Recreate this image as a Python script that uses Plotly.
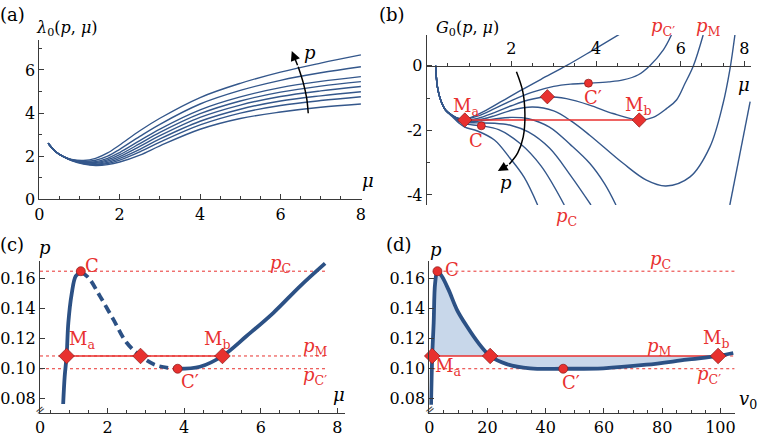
import plotly.graph_objects as go

W, H = 772, 444
BLUE = "#34578b"
BLUE_THICK = "#2c5185"
RED = "#e8312f"
RED_EDGE = "#8a1a18"
FILL = "#c8d7ea"
AXIS = "#3a3a3a"
FONT = "DejaVu Serif"

# ---------------- panel (a): lambda_0(p, mu) ----------------
a_mu = [0.22, 0.4, 0.6, 0.8, 1.1, 1.4, 1.7, 2.0, 2.5, 3.0, 4.0, 5.0, 6.0, 7.0, 8.0]
a_lam_1 = [2.60, 2.22, 1.98, 1.80, 1.64, 1.57, 1.61, 1.73, 2.05, 2.48, 3.25, 3.75, 4.05, 4.27, 4.42]
a_lam_2 = [2.60, 2.22, 1.98, 1.81, 1.66, 1.60, 1.66, 1.82, 2.20, 2.65, 3.45, 4.00, 4.35, 4.58, 4.76]
a_lam_3 = [2.60, 2.22, 1.98, 1.82, 1.68, 1.63, 1.71, 1.90, 2.32, 2.80, 3.62, 4.18, 4.56, 4.80, 4.99]
a_lam_4 = [2.60, 2.22, 1.98, 1.82, 1.70, 1.67, 1.77, 1.98, 2.45, 2.95, 3.80, 4.37, 4.77, 5.03, 5.23]
a_lam_5 = [2.60, 2.22, 1.98, 1.83, 1.72, 1.71, 1.83, 2.07, 2.58, 3.10, 3.97, 4.56, 4.97, 5.25, 5.46]
a_lam_6 = [2.60, 2.22, 1.98, 1.83, 1.74, 1.75, 1.90, 2.17, 2.72, 3.26, 4.15, 4.75, 5.18, 5.47, 5.69]
a_lam_7 = [2.60, 2.22, 1.98, 1.84, 1.77, 1.81, 2.00, 2.32, 2.92, 3.48, 4.42, 5.05, 5.52, 5.87, 6.15]
a_lam_8 = [2.60, 2.22, 1.98, 1.85, 1.80, 1.90, 2.15, 2.52, 3.18, 3.76, 4.72, 5.38, 5.90, 6.32, 6.70]
a_curves = [a_lam_1, a_lam_2, a_lam_3, a_lam_4, a_lam_5, a_lam_6, a_lam_7, a_lam_8]
a_arrow_mu = [6.69, 6.65, 6.57, 6.44]
a_arrow_lam = [3.99, 4.70, 5.38, 6.15]
a_arrow_head = (6.28, 6.88)
a_xticks = [0, 2, 4, 6, 8]
a_yticks = [0, 2, 4, 6]

# ---------------- panel (b): G_0(p, mu) ----------------
b_start_mu = [0.213, 0.252, 0.331, 0.449]
b_start_G = [0.0, -0.65, -1.07, -1.38]
b_mu_1 = b_start_mu + [0.607, 0.764, 0.9, 1.0, 1.4, 1.8, 2.2, 2.7, 3.3, 3.9, 4.55]
b_G_1 = b_start_G + [-1.54, -1.63, -1.64, -1.62, -1.38, -1.08, -0.78, -0.42, 0.0, 0.46, 0.97]
b_mu_2 = b_start_mu + [0.607, 0.764, 0.9, 1.2, 1.6, 2.0, 2.5, 3.0, 3.4, 3.82, 4.3, 4.64, 5.0, 5.27, 5.59, 5.78]
b_G_2 = b_start_G + [-1.54, -1.64, -1.66, -1.56, -1.33, -1.08, -0.82, -0.64, -0.57, -0.54, -0.50, -0.44, -0.28, 0.0, 0.49, 0.95]
b_mu_3 = b_start_mu + [0.607, 0.764, 0.9, 1.2, 1.6, 2.0, 2.4, 2.85, 3.3, 3.85, 4.4, 5.02, 5.35, 5.67, 5.9, 6.1, 6.3, 6.53]
b_G_3 = b_start_G + [-1.54, -1.65, -1.68, -1.63, -1.45, -1.24, -1.06, -0.96, -1.02, -1.22, -1.48, -1.68, -1.60, -1.32, -1.06, -0.55, 0.0, 0.95]
b_mu_4 = b_start_mu + [0.607, 0.764, 0.9, 1.2, 1.6, 2.0, 2.5, 3.0, 3.4, 3.85, 4.64, 5.19, 5.65, 6.22, 6.69, 7.0, 7.16, 7.28]
b_G_4 = b_start_G + [-1.54, -1.66, -1.70, -1.68, -1.55, -1.38, -1.28, -1.40, -1.70, -2.15, -3.02, -3.54, -3.72, -3.44, -2.51, -1.17, -0.13, 0.95]
b_mu_5 = b_start_mu + [0.607, 0.764, 0.9, 1.2, 1.6, 2.0, 2.4, 2.9, 3.4, 3.85, 4.2, 4.47, None, 7.16, 7.4, 7.64]
b_G_5 = b_start_G + [-1.54, -1.67, -1.72, -1.72, -1.65, -1.60, -1.64, -1.90, -2.45, -3.02, -3.65, -4.31, None, -4.31, -2.71, -1.11]
b_mu_6 = b_start_mu + [0.607, 0.764, 0.9, 1.2, 1.6, 2.0, 2.4, 2.9, 3.4, 3.88]
b_G_6 = b_start_G + [-1.55, -1.69, -1.75, -1.77, -1.78, -1.85, -2.05, -2.55, -3.40, -4.31]
b_mu_7 = b_start_mu + [0.607, 0.764, 0.9, 1.29, 1.7, 2.2, 2.7, 3.25]
b_G_7 = b_start_G + [-1.56, -1.73, -1.80, -1.86, -1.98, -2.40, -3.10, -4.31]
b_mu_8 = b_start_mu + [0.607, 0.764, 0.9, 1.2, 1.6, 1.96, 2.3, 2.62]
b_G_8 = b_start_G + [-1.58, -1.78, -1.90, -2.02, -2.30, -2.85, -3.45, -4.31]
b_curves = [(b_mu_1, b_G_1), (b_mu_2, b_G_2), (b_mu_3, b_G_3), (b_mu_4, b_G_4),
            (b_mu_5, b_G_5), (b_mu_6, b_G_6), (b_mu_7, b_G_7), (b_mu_8, b_G_8)]
b_G_M = -1.68
b_diamond_mu = [0.9, 2.85, 5.02]
b_diamond_G = [-1.68, -0.96, -1.68]
b_circle_mu = [1.29, 3.82]
b_circle_G = [-1.86, -0.54]
b_arrow_mu = [2.12, 2.27, 2.32, 2.28, 2.15, 1.95]
b_arrow_G = [-0.19, -0.80, -1.50, -2.20, -2.70, -3.05]
b_arrow_head = (1.68, -3.26)
b_xticks = [2, 4, 6, 7.5]
b_xticktext = ["2", "4", "6", "8"]
b_yticks = [-4, -2, 0]
b_yticktext = ["-4", "-2", "0"]

# ---------------- levels ----------------
p_C = 0.165
p_M = 0.1085
p_Cp = 0.100

# ---------------- panel (c): p(mu) ----------------
c_mu_rise = [0.84, 0.88, 0.93, 0.975, 1.06, 1.17, 1.30]
c_p_rise = [0.0765, 0.095, 0.1085, 0.1307, 0.1495, 0.1618, 0.1645]
c_mu_dash = [1.30, 1.50, 1.80, 2.15, 2.50, 2.86, 3.28, 3.83]
c_p_dash = [0.1645, 0.1607, 0.1484, 0.1329, 0.1173, 0.1085, 0.1022, 0.100]
c_mu_right = [3.83, 4.41, 5.00, 5.63, 6.33, 7.03, 7.68]
c_p_right = [0.100, 0.1013, 0.1085, 0.1218, 0.1373, 0.1551, 0.1702]
c_diamond_mu = [0.93, 2.86, 5.00]
c_circle_mu = [1.30, 3.83]
c_circle_p = [p_C, p_Cp]
c_xticks = [0.235, 2, 4, 6, 8]
c_xticktext = ["0", "2", "4", "6", "8"]
p_ticks = [0.08, 0.10, 0.12, 0.14, 0.16]
p_ticktext = ["0.08", "0.10", "0.12", "0.14", "0.16"]

# ---------------- panel (d): p(v0) ----------------
d_v0 = [0.6, 1.0, 1.5, 2.0, 2.8, 4.3, 6.6, 9.5, 12.9, 16.9, 20.9, 26.6, 34.6, 46.0, 59.8, 74.6, 88.4, 99.2, 104.4]
d_p = [0.076, 0.1085, 0.1305, 0.157, 0.165, 0.1616, 0.1527, 0.1393, 0.1283, 0.1171, 0.1085, 0.1031,
       0.1003, 0.100, 0.1003, 0.1027, 0.106, 0.1085, 0.1105]
d_diamond_v0 = [1.0, 20.9, 99.2]
d_circle_v0 = [2.8, 46.0]
d_circle_p = [p_C, p_Cp]
d_xticks = [0, 20, 40, 60, 80, 100]

# ---------------- figure ----------------
fig = go.Figure()


def fx(px):
    return px / W


def fy(py):
    return 1 - py / H


def add_line(x, y, xa, ya, color, width, dash=None, shape="spline"):
    fig.add_trace(go.Scatter(x=x, y=y, xaxis=xa, yaxis=ya, mode="lines",
                             line=dict(color=color, width=width, dash=dash, shape=shape),
                             connectgaps=False, hoverinfo="skip", showlegend=False))


def add_markers(x, y, xa, ya, symbol, size):
    fig.add_trace(go.Scatter(x=x, y=y, xaxis=xa, yaxis=ya, mode="markers",
                             marker=dict(symbol=symbol, size=size, color=RED,
                                         line=dict(color=RED_EDGE, width=0.7)),
                             cliponaxis=False, hoverinfo="skip", showlegend=False))


# panel a
for lam in a_curves:
    add_line(a_mu, lam, "x", "y", BLUE, 1.4)
add_line(a_arrow_mu, a_arrow_lam, "x", "y", "black", 1.5)

# panel b
for mu, G in b_curves:
    add_line(mu, G, "x2", "y2", BLUE, 1.4)
add_line([b_diamond_mu[0], b_diamond_mu[2]], [b_G_M, b_G_M], "x2", "y2", RED, 1.4, shape="linear")
add_line(b_arrow_mu, b_arrow_G, "x2", "y2", "black", 1.5)
add_markers(b_diamond_mu, b_diamond_G, "x2", "y2", "diamond", 11)
add_markers(b_circle_mu, b_circle_G, "x2", "y2", "circle", 8)

# panel c
c_x0, c_x1 = 0.235, 7.75
add_line([c_x0, c_x1], [p_C, p_C], "x3", "y3", RED, 1, dash="dot", shape="linear")
add_line([c_x0, c_x1], [p_M, p_M], "x3", "y3", RED, 1, dash="dot", shape="linear")
add_line([c_x0, c_x1], [p_Cp, p_Cp], "x3", "y3", RED, 1, dash="dot", shape="linear")
add_line([c_diamond_mu[0], c_diamond_mu[2]], [p_M, p_M], "x3", "y3", RED, 1.4, shape="linear")
add_line(c_mu_rise, c_p_rise, "x3", "y3", BLUE_THICK, 3.8)
add_line(c_mu_dash, c_p_dash, "x3", "y3", BLUE_THICK, 3.8, dash="9px,5px")
add_line(c_mu_right, c_p_right, "x3", "y3", BLUE_THICK, 3.8)
add_markers(c_diamond_mu, [p_M] * 3, "x3", "y3", "diamond", 12)
add_markers(c_circle_mu, c_circle_p, "x3", "y3", "circle", 9)

# panel d
fig.add_trace(go.Scatter(x=d_v0[1:18], y=d_p[1:18], xaxis="x4", yaxis="y4", mode="lines",
                         fill="toself", fillcolor=FILL, line=dict(width=0, shape="spline"),
                         hoverinfo="skip", showlegend=False))
add_line([d_circle_v0[0], 104.8], [p_C, p_C], "x4", "y4", RED, 1, dash="dot", shape="linear")
add_line([d_diamond_v0[2], 106], [p_M, p_M], "x4", "y4", RED, 1, dash="dot", shape="linear")
add_line([1.0, 104.8], [p_Cp, p_Cp], "x4", "y4", RED, 1, dash="dot", shape="linear")
add_line([d_diamond_v0[0], d_diamond_v0[2]], [p_M, p_M], "x4", "y4", RED, 1.4, shape="linear")
add_line(d_v0, d_p, "x4", "y4", BLUE_THICK, 3.8)
add_markers(d_diamond_v0, [p_M] * 3, "x4", "y4", "diamond", 12)
add_markers(d_circle_v0, d_circle_p, "x4", "y4", "circle", 9)

# ---------------- axes ----------------
tickfont = dict(family=FONT, size=16, color="black")
base = dict(showgrid=False, zeroline=False, showline=True, linecolor=AXIS, linewidth=1,
            tickcolor=AXIS, tickwidth=1, ticklen=5, ticks="inside", tickfont=tickfont,
            automargin=False, fixedrange=True)


def minor(vals):
    return dict(tickvals=vals, ticks="inside", ticklen=3, tickcolor=AXIS, tickwidth=1)


def minor_out(vals):
    return dict(tickvals=vals, ticks="outside", ticklen=3, tickcolor=AXIS, tickwidth=1)


# domains from pixel positions
a_dx = [fx(39.3), fx(361.7)]
a_dy = [fy(199.3), fy(40)]
b_dx = [fx(426.7), fx(751)]
b_dy = [fy(205), fy(35)]
c_dx = [fx(40), fx(345)]
d_dx = [fx(429.3), fx(735)]
cd_dy = [fy(412.7), fy(261.3)]

b_yr = [-4.31, 0.95]
b_pos = b_dy[0] + (0 - b_yr[0]) / (b_yr[1] - b_yr[0]) * (b_dy[1] - b_dy[0])

fig.update_layout(
    width=W, height=H, margin=dict(l=0, r=0, t=0, b=0),
    paper_bgcolor="white", plot_bgcolor="rgba(0,0,0,0)",
    showlegend=False,
    font=dict(family=FONT, size=16, color="black"),
    xaxis=dict(base, domain=a_dx, range=[0, 8.02], anchor="y", tickvals=a_xticks,
               minor=minor([0.5, 1, 1.5, 2.5, 3, 3.5, 4.5, 5, 5.5, 6.5, 7, 7.5])),
    yaxis=dict(base, domain=a_dy, range=[0, 7.39], anchor="x", tickvals=a_yticks,
               minor=minor([1, 3, 5, 7])),
    xaxis2=dict(base, domain=b_dx, range=[0, 7.66], anchor="free", position=b_pos, side="top",
                ticks="outside", tickvals=b_xticks, ticktext=b_xticktext,
                minor=minor_out([0.5, 1, 1.5, 2.5, 3, 3.5, 4.5, 5, 5.5, 6.5, 7])),
    yaxis2=dict(base, domain=b_dy, range=b_yr, anchor="x2", tickvals=b_yticks,
                ticktext=b_yticktext, minor=minor([-3, -1])),
    xaxis3=dict(base, domain=c_dx, range=[0.235, 8.2], anchor="y3", tickvals=c_xticks,
                ticktext=c_xticktext,
                minor=minor([0.5, 1, 1.5, 2.5, 3, 3.5, 4.5, 5, 5.5, 6.5, 7, 7.5])),
    yaxis3=dict(base, domain=cd_dy, range=[0.0707, 0.1716], anchor="x3", tickvals=p_ticks,
                ticktext=p_ticktext),
    xaxis4=dict(base, domain=d_dx, range=[0, 105], anchor="y4", tickvals=d_xticks,
                minor=minor([5, 10, 15, 25, 30, 35, 45, 50, 55, 65, 70, 75, 85, 90, 95])),
    yaxis4=dict(base, domain=cd_dy, range=[0.0707, 0.1716], anchor="x4", tickvals=p_ticks,
                ticktext=p_ticktext),
)

# ---------------- annotations ----------------
ann = []


def label(px, py, text, color="black", size=18):
    ann.append(dict(x=fx(px), y=fy(py), xref="paper", yref="paper", text=text, showarrow=False,
                    font=dict(family=FONT, size=size, color=color),
                    xanchor="center", yanchor="middle"))


PC = "<i>p</i><sub>C</sub>"
PM = "<i>p</i><sub>M</sub>"
PCP = "<i>p</i><sub>C′</sub>"
MA = "M<sub>a</sub>"
MB = "M<sub>b</sub>"

# a
label(12, 15, "(a)")
label(67, 28, "<i>λ</i><sub>0</sub>(<i>p</i>, <i>μ</i>)", size=16)
label(368, 180, "<i>μ</i>")
label(310, 52, "<i>p</i>")
# b
label(392, 15, "(b)")
label(467, 28, "<i>G</i><sub>0</sub>(<i>p</i>, <i>μ</i>)", size=16)
label(744, 85, "<i>μ</i>")
label(663, 27, PCP, RED)
label(708, 27, PM, RED)
label(566, 217, PC, RED)
label(466, 107, MA, RED)
label(476, 140, "C", RED)
label(593, 97, "C′", RED)
label(638, 106, MB, RED)
label(506, 182, "<i>p</i>")
# c
label(12, 244, "(c)")
label(45, 247, "<i>p</i>")
label(339, 394, "<i>μ</i>")
label(92, 265, "C", RED)
label(280, 264, PC, RED)
label(82, 340, MA, RED)
label(217, 340, MB, RED)
label(315, 347, PM, RED)
label(190, 381, "C′", RED)
label(315, 376, PCP, RED)
# d
label(399, 244, "(d)")
label(436, 249, "<i>p</i>")
label(748, 400, "<i>v</i><sub>0</sub>")
label(452, 269, "C", RED)
label(660, 260, PC, RED)
label(716, 339, MB, RED)
label(659, 347, PM, RED)
label(448, 367, MA, RED)
label(571, 382, "C′", RED)
label(709, 375, PCP, RED)

# axis break marks
for bx in (40, 429.5):
    ann.append(dict(x=fx(bx), y=fy(410), xref="paper", yref="paper", text="=", showarrow=False,
                    textangle=-40, font=dict(family=FONT, size=12, color=AXIS),
                    xanchor="center", yanchor="middle"))

# arrow heads
ann.append(dict(x=a_arrow_head[0], y=a_arrow_head[1], xref="x", yref="y",
                ax=a_arrow_mu[-1], ay=a_arrow_lam[-1], axref="x", ayref="y", text="",
                showarrow=True, arrowhead=2, arrowsize=1.3, arrowwidth=1.5, arrowcolor="black"))
ann.append(dict(x=b_arrow_head[0], y=b_arrow_head[1], xref="x2", yref="y2",
                ax=b_arrow_mu[-1], ay=b_arrow_G[-1], axref="x2", ayref="y2", text="",
                showarrow=True, arrowhead=2, arrowsize=1.3, arrowwidth=1.5, arrowcolor="black"))

fig.update_layout(annotations=ann)
fig.write_html("out.html", config={"displayModeBar": False},
               post_script="document.body.style.margin='0';document.body.style.padding='0';")
